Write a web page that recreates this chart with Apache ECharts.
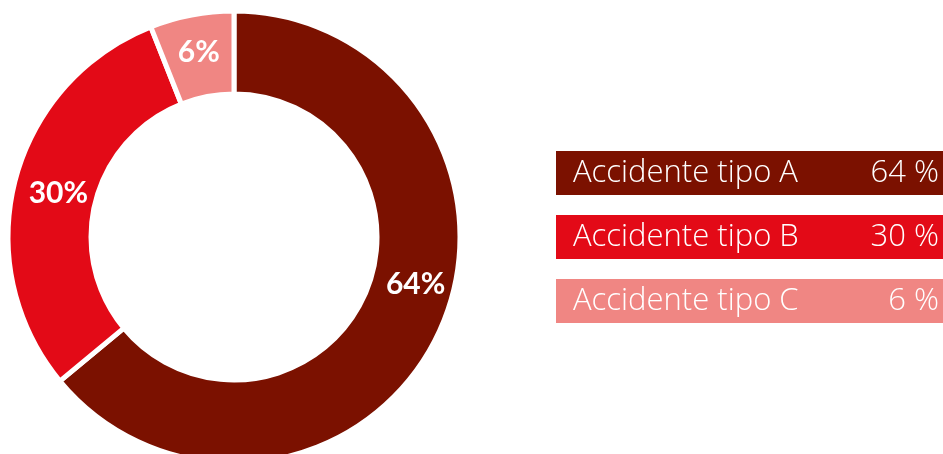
<!DOCTYPE html>
<html>
<head>
<meta charset="utf-8">
<style>
  html, body { margin: 0; padding: 0; background: #fff; }
  #chart { width: 943px; height: 454px; }
</style>
<script src="https://cdn.jsdelivr.net/npm/echarts@6/dist/echarts.min.js"></script>
</head>
<body>
<div id="chart"></div>
<script>
// datos del gráfico
const categorias = ['Accidente tipo A', 'Accidente tipo B', 'Accidente tipo C']
const valores = [64, 30, 6]
const colores = ['#7B1100', '#E30A17', '#F08683']

const myChart = echarts.init(document.getElementById('chart'))

const datos = categorias.map(function(name, i) {
  return { name: name, value: valores[i], itemStyle: { color: colores[i] } }
})

const fuenteLeyenda = { fontSize: 31, fontFamily: 'Open Sans', fontWeight: 300, color: '#fff', height: 44, lineHeight: 44 }

const option = {
  animation: false,
  legend: {
    orient: 'vertical',
    left: 551,
    top: 151,
    padding: 0,
    icon: 'none',
    itemWidth: 0,
    itemHeight: 14,
    itemGap: 20,
    selectedMode: false,
    data: categorias.map(function(name, i) {
      return {
        name: name,
        textStyle: {
          backgroundColor: colores[i],
          color: '#fff',
          height: 44,
          padding: [0, 4, 0, 17],
          rich: {
            n: Object.assign({ width: 286 }, fuenteLeyenda),
            v: Object.assign({ width: 80, align: 'right' }, fuenteLeyenda)
          }
        }
      }
    }),
    formatter: function(name) {
      const i = categorias.indexOf(name)
      return '{n|' + name + '}{v|' + valores[i] + ' %}'
    }
  },
  series: [
    {
      type: 'pie',
      center: [234, 237],
      radius: [143, 226],
      startAngle: 90,
      silent: true,
      itemStyle: {
        borderColor: '#fff',
        borderWidth: 5
      },
      label: {
        position: 'inside',
        formatter: '{c}%',
        color: '#fff',
        fontSize: 30,
        fontWeight: 'bold',
        fontFamily: 'Lato'
      },
      labelLine: { show: false },
      labelLayout: function(params) {
        if (params.dataIndex === 0) {
          return { dx: 12, dy: -33 }
        }
        if (params.dataIndex === 1) {
          return { dx: 6, dy: 3 }
        }
      },
      data: datos
    }
  ]
}

myChart.setOption(option)

window.addEventListener('resize', function() {
  myChart.resize()
})
</script>
</body>
</html>
